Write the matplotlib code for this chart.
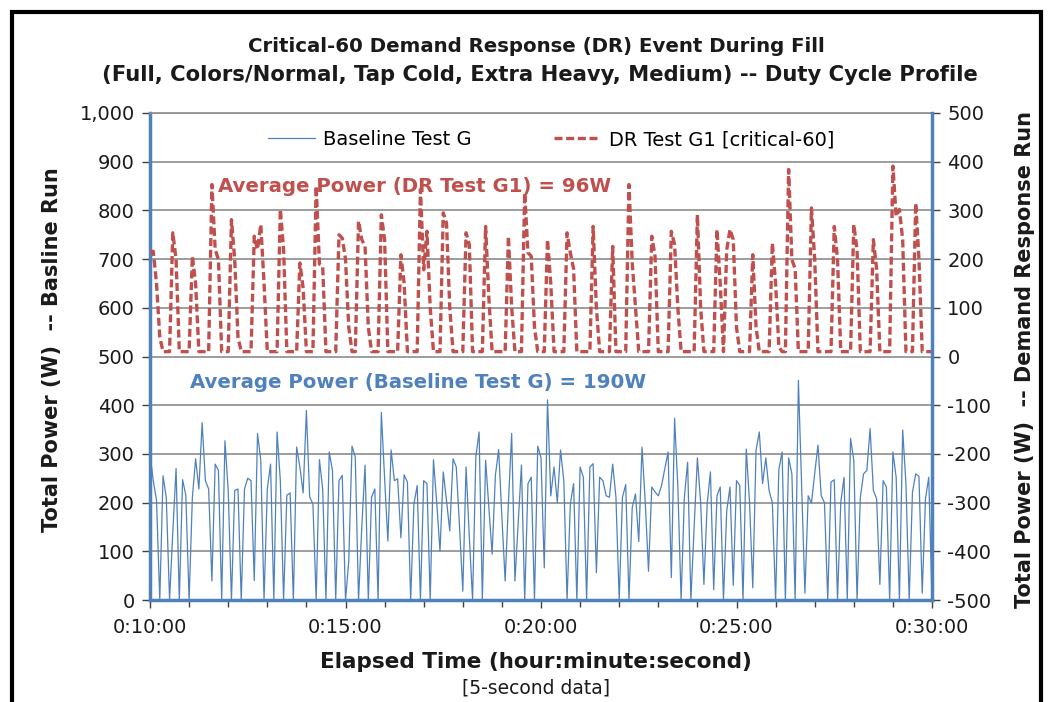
import numpy as np
import matplotlib
matplotlib.use("Agg")
import matplotlib.pyplot as plt
from matplotlib.ticker import FuncFormatter, MultipleLocator
from matplotlib.patches import Rectangle

plt.rcParams['font.family'] = ['DejaVu Sans']
plt.rcParams['axes.unicode_minus'] = False

# ---------------- data (5-second samples, 0:10:00 -> 0:30:00) ----------------
start_seconds = 600
step_seconds = 5

baseline_w = [
    300, 245, 205, 0, 255, 210, 0, 140, 270, 0,
    247, 215, 0, 210, 290, 228, 364, 245, 228, 39,
    279, 266, 0, 327, 225, 0, 225, 228, 0, 228,
    250, 245, 40, 342, 287, 0, 228, 279, 0, 345,
    245, 0, 215, 220, 0, 314, 273, 220, 389, 212,
    197, 0, 288, 228, 0, 304, 266, 0, 245, 256,
    0, 80, 316, 294, 0, 150, 277, 0, 211, 228,
    0, 385, 250, 121, 308, 245, 249, 128, 257, 242,
    0, 197, 235, 0, 245, 239, 0, 288, 200, 100,
    263, 204, 142, 290, 273, 150, 18, 273, 130, 0,
    294, 345, 0, 287, 190, 94, 256, 309, 170, 39,
    200, 342, 39, 160, 277, 0, 239, 252, 0, 316,
    292, 66, 411, 214, 273, 200, 308, 245, 0, 197,
    239, 0, 273, 252, 0, 273, 280, 56, 252, 245,
    214, 211, 279, 211, 0, 211, 237, 0, 190, 218,
    120, 314, 200, 59, 232, 222, 214, 235, 270, 304,
    46, 373, 232, 0, 211, 283, 0, 150, 292, 200,
    32, 197, 263, 21, 214, 232, 0, 183, 232, 30,
    245, 235, 0, 310, 200, 25, 308, 345, 239, 292,
    225, 200, 0, 268, 304, 0, 292, 259, 0, 451,
    230, 14, 214, 199, 260, 318, 214, 200, 0, 242,
    247, 0, 200, 252, 0, 332, 287, 0, 211, 259,
    266, 352, 225, 208, 32, 245, 232, 0, 304, 252,
    0, 349, 239, 0, 221, 259, 254, 14, 208, 252,
    0,
]

dr_w = [
    216, 216, 150, 40, 10, 10, 10, 254, 200, 10,
    10, 10, 10, 206, 150, 10, 10, 10, 10, 353,
    220, 199, 10, 10, 10, 281, 199, 40, 10, 10,
    10, 10, 247, 220, 271, 150, 10, 10, 10, 10,
    302, 220, 10, 10, 10, 10, 192, 140, 10, 10,
    10, 350, 190, 185, 10, 10, 10, 10, 250, 243,
    200, 60, 10, 10, 278, 240, 226, 60, 10, 10,
    10, 291, 240, 10, 10, 10, 10, 209, 150, 10,
    10, 10, 10, 343, 178, 257, 100, 10, 10, 10,
    295, 274, 100, 10, 10, 10, 10, 254, 230, 10,
    10, 10, 10, 267, 120, 10, 10, 10, 10, 10,
    247, 100, 10, 10, 10, 336, 213, 206, 60, 10,
    10, 10, 240, 150, 10, 10, 10, 10, 254, 213,
    180, 10, 10, 10, 10, 10, 267, 100, 10, 10,
    10, 10, 226, 10, 10, 10, 10, 353, 192, 100,
    10, 10, 10, 10, 247, 206, 10, 10, 10, 10,
    257, 230, 100, 10, 10, 10, 10, 10, 291, 100,
    10, 10, 10, 10, 261, 150, 10, 219, 261, 240,
    60, 10, 10, 10, 10, 209, 60, 10, 10, 10,
    10, 233, 150, 20, 10, 10, 384, 199, 180, 10,
    10, 10, 10, 305, 200, 10, 10, 10, 10, 10,
    267, 200, 10, 10, 10, 10, 271, 219, 10, 10,
    10, 10, 240, 180, 10, 10, 10, 10, 391, 288,
    302, 240, 10, 10, 10, 315, 200, 10, 10, 10,
    10,
]

baseline_label = "Baseline Test G"
dr_label = "DR Test G1 [critical-60]"
title_line1 = "Critical-60 Demand Response (DR) Event During Fill"
title_line2 = "(Full, Colors/Normal, Tap Cold, Extra Heavy, Medium) -- Duty Cycle Profile"
left_label = "Total Power (W)  -- Basline Run"
right_label = "Total Power (W)  -- Demand Response Run"
x_label = "Elapsed Time (hour:minute:second)"
x_sublabel = "[5-second data]"
dr_avg_text = "Average Power (DR Test G1) = 96W"
base_avg_text = "Average Power (Baseline Test G) = 190W"

t_base = start_seconds + step_seconds * np.arange(len(baseline_w))
t_dr = start_seconds + step_seconds * np.arange(len(dr_w))

BLUE = "#4F81BD"
RED = "#C0504D"
GRID = "#8C8C8C"
TXT = "#1A1A1A"

fig = plt.figure(figsize=(10.5, 7.02), dpi=100)
fig.patch.set_facecolor("white")

ax1 = fig.add_axes([150 / 1050, 1 - 600 / 702, 782 / 1050, 487 / 702])
ax2 = ax1.twinx()

l1, = ax1.plot(t_base, baseline_w, color=BLUE, lw=0.9, label=baseline_label)
l2, = ax2.plot(t_dr, dr_w, color=RED, lw=2.4, linestyle=(0, (2.4, 1.1)),
               label=dr_label, clip_on=False)

ax1.set_xlim(600, 1800)
ax1.set_ylim(0, 1000)
ax2.set_ylim(-500, 500)

ax1.yaxis.set_major_locator(MultipleLocator(100))
ax2.yaxis.set_major_locator(MultipleLocator(100))
ax1.yaxis.set_major_formatter(FuncFormatter(lambda v, p: f"{int(round(v)):,}"))
ax2.yaxis.set_major_formatter(FuncFormatter(lambda v, p: f"{int(round(v))}"))

def hms(v, p):
    v = int(round(v))
    return f"{v // 3600}:{(v % 3600) // 60:02d}:{v % 60:02d}"

ax1.xaxis.set_major_locator(MultipleLocator(300))
ax1.xaxis.set_minor_locator(MultipleLocator(60))
ax1.xaxis.set_major_formatter(FuncFormatter(hms))

ax1.grid(axis="y", color=GRID, lw=1.2)
ax1.set_axisbelow(True)

for ax in (ax1, ax2):
    ax.tick_params(axis="both", which="both", direction="out", labelsize=14,
                   colors="#404040", length=6, width=1)
    ax.tick_params(axis="y", labelcolor=TXT)
    ax.tick_params(axis="x", labelcolor=TXT)
    for s in ax.spines.values():
        s.set_visible(False)

ax1.tick_params(axis="x", which="minor", length=5)
ax1.tick_params(axis="x", pad=7)
ax1.tick_params(axis="y", pad=5)
ax2.tick_params(axis="y", pad=5)

for side in ("left", "bottom"):
    ax1.spines[side].set_visible(True)
    ax1.spines[side].set_color(BLUE)
    ax1.spines[side].set_linewidth(2.5)
ax1.spines["top"].set_visible(True)
ax1.spines["top"].set_color(GRID)
ax1.spines["top"].set_linewidth(1.2)
ax2.spines["right"].set_visible(True)
ax2.spines["right"].set_color(BLUE)
ax2.spines["right"].set_linewidth(2.5)

ax2.legend(handles=[l1, l2], loc="center", bbox_to_anchor=(0.513, 0.945),
           ncol=2, frameon=False, fontsize=14, handlelength=2.4,
           columnspacing=4.2, handletextpad=0.45)

ax2.text(0.087, 0.850, dr_avg_text, transform=ax1.transAxes, color=RED,
         fontsize=14.2, fontweight="bold", va="center", ha="left")
ax1.text(0.051, 0.4456, base_avg_text, transform=ax1.transAxes, color=BLUE,
         fontsize=14.2, fontweight="bold", va="center", ha="left")

fig.text(536 / 1050, 1 - 47 / 702, title_line1, ha="center", va="center",
         fontsize=14.2, fontweight="bold", color=TXT)
fig.text(540 / 1050, 1 - 75 / 702, title_line2, ha="center", va="center",
         fontsize=15.2, fontweight="bold", color=TXT)

fig.text(52 / 1050, 1 - 350 / 702, left_label, rotation=90, ha="center",
         va="center", fontsize=15, fontweight="bold", color=TXT)
fig.text(1025 / 1050, 1 - 360 / 702, right_label, rotation=90, ha="center",
         va="center", fontsize=15, fontweight="bold", color=TXT)

fig.text(536 / 1050, 1 - 662 / 702, x_label, ha="center", va="center",
         fontsize=15.5, fontweight="bold", color=TXT)
fig.text(536 / 1050, 1 - 688 / 702, x_sublabel, ha="center", va="center",
         fontsize=13.5, color=TXT)

frame = Rectangle((12 / 1050, -0.05), (1041 - 12) / 1050, 1 - 12 / 702 + 0.05,
                  transform=fig.transFigure, fill=False, edgecolor="black",
                  linewidth=3, zorder=10)
fig.patches.append(frame)

fig.savefig("out.png", dpi=100)
